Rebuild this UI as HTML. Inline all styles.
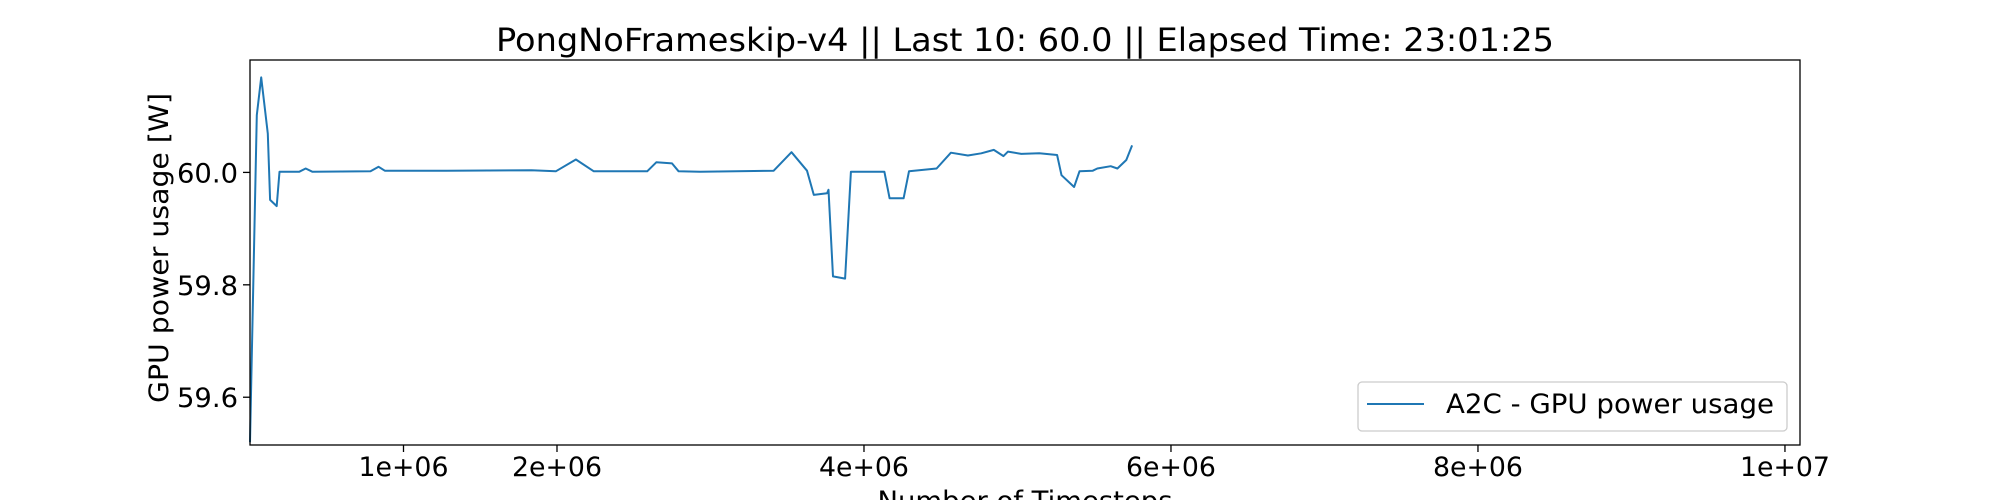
<!DOCTYPE html>
<html><head><meta charset="utf-8"><style>
body{margin:0;background:#fff}
svg{display:block;font-family:"DejaVu Sans","Liberation Sans",sans-serif}
</style></head><body>
<svg id="chart" width="2000" height="500" viewBox="0 0 2000 500">
<rect width="2000" height="500" fill="#fff"/>
<text x="1025" y="51" font-size="32" text-anchor="middle" textLength="1058" lengthAdjust="spacingAndGlyphs">PongNoFrameskip-v4 || Last 10: 60.0 || Elapsed Time: 23:01:25</text>
<g id="xticks"></g>
<g id="yticks"></g>
<path id="series" fill="none" stroke="#1f77b4" stroke-width="2" stroke-linejoin="round"/>
<rect x="250" y="60" width="1550" height="385" fill="none" stroke="#000" stroke-width="1.3"/>
<text transform="translate(168,248) rotate(-90)" font-size="27" text-anchor="middle" textLength="310" lengthAdjust="spacingAndGlyphs">GPU power usage [W]</text>
<text x="1025" y="510" font-size="27" text-anchor="middle" textLength="295" lengthAdjust="spacingAndGlyphs">Number of Timesteps</text>
<g>
<rect x="1358" y="382" width="429" height="49" rx="4" fill="#fff" stroke="#ccc" stroke-width="1.3"/>
<line x1="1367" y1="404" x2="1424" y2="404" stroke="#1f77b4" stroke-width="2"/>
<text x="1446" y="413" font-size="27" textLength="328" lengthAdjust="spacingAndGlyphs">A2C - GPU power usage</text>
</g>
</svg>
<script>
const steps=[0,0.044,0.073,0.116,0.131,0.174,0.192,0.320,0.363,0.407,0.785,0.838,0.878,1.280,1.833,1.992,2.123,2.240,2.588,2.647,2.749,2.792,2.932,3.412,3.528,3.629,3.673,3.760,3.769,3.798,3.877,3.915,4.133,4.167,4.258,4.293,4.473,4.566,4.677,4.764,4.846,4.909,4.938,5.025,5.142,5.258,5.287,5.369,5.404,5.491,5.520,5.607,5.651,5.709,5.747];
const power=[59.52,60.102,60.169,60.069,59.951,59.940,60.001,60.001,60.007,60.001,60.002,60.010,60.003,60.003,60.004,60.002,60.023,60.002,60.002,60.018,60.016,60.002,60.001,60.003,60.036,60.003,59.960,59.963,59.969,59.815,59.811,60.001,60.001,59.954,59.954,60.002,60.007,60.035,60.030,60.034,60.040,60.029,60.037,60.033,60.034,60.031,59.995,59.974,60.002,60.003,60.007,60.011,60.007,60.022,60.048];
const xTickVals=[1e6,2e6,4e6,6e6,8e6,1e7];
const xTickLabels=["1e+06","2e+06","4e+06","6e+06","8e+06","1e+07"];
const yTickVals=[59.6,59.8,60.0];
const yTickLabels=["59.6","59.8","60.0"];
const X0=250,X1=1800,Y0=60,Y1=445,XMIN=0,XMAX=1.0098e7,YMIN=59.515,YMAX=60.2;
const sx=v=>X0+(v-XMIN)/(XMAX-XMIN)*(X1-X0);
const sy=v=>Y1-(v-YMIN)/(YMAX-YMIN)*(Y1-Y0);
const NS="http://www.w3.org/2000/svg";
const xg=document.getElementById('xticks'),yg=document.getElementById('yticks');
xTickVals.forEach((v,i)=>{
 const l=document.createElementNS(NS,'line');
 l.setAttribute('x1',sx(v));l.setAttribute('x2',sx(v));l.setAttribute('y1',Y1);l.setAttribute('y2',Y1+7);l.setAttribute('stroke','#000');l.setAttribute('stroke-width','1.3');
 
 
 xg.appendChild(l);
 const t=document.createElementNS(NS,'text');
 t.setAttribute('x',sx(v));t.setAttribute('y',476);t.setAttribute('font-size','27');t.setAttribute('text-anchor','middle');
 t.setAttribute('textLength','90');t.setAttribute('lengthAdjust','spacingAndGlyphs');
 t.textContent=xTickLabels[i];
 
 
 xg.appendChild(t);
});
yTickVals.forEach((v,i)=>{
 const l=document.createElementNS(NS,'line');
 l.setAttribute('x1',X0-7);l.setAttribute('x2',X0);l.setAttribute('y1',sy(v));l.setAttribute('y2',sy(v));l.setAttribute('stroke','#000');l.setAttribute('stroke-width','1.3');
 
 
 yg.appendChild(l);
 const t=document.createElementNS(NS,'text');
 t.setAttribute('x',X0-12);t.setAttribute('y',sy(v)+10);t.setAttribute('font-size','27');t.setAttribute('text-anchor','end');
 t.setAttribute('textLength','61');t.setAttribute('lengthAdjust','spacingAndGlyphs');
 t.textContent=yTickLabels[i];
 
 
 yg.appendChild(t);
});
document.getElementById('series').setAttribute('d',steps.map((s,i)=>(i?'L':'M')+sx(s*1e6).toFixed(1)+','+sy(power[i]).toFixed(1)).join(''));
</script>
</body></html>
